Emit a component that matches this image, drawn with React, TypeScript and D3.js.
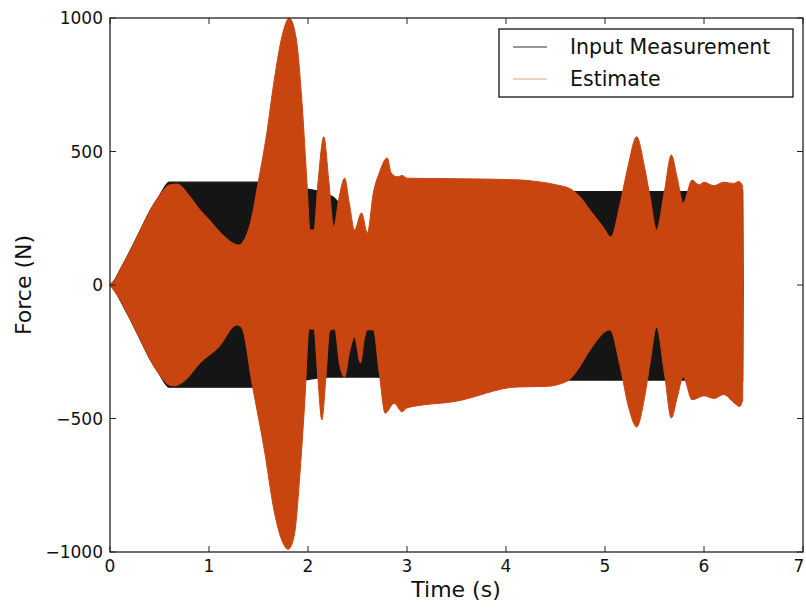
import React from "react";
import * as d3 from "d3";

// ---- data ----
// Input measurement envelope (dense oscillation drawn as filled band)
const inputTime = [0, 0.05, 0.1, 0.2, 0.3, 0.4, 0.5, 0.6, 1.0, 1.5, 1.9, 2.2, 2.32, 2.42, 2.6, 2.7, 2.8, 3.0, 4.0, 4.8, 5.2, 6.0, 6.39, 6.395];
const inputUpper = [0, 20, 55, 125, 200, 275, 335, 385, 385, 385, 365, 340, 300, 200, 185, 290, 345, 350, 350, 350, 350, 350, 355, 0];
const inputLower = [0, -20, -55, -125, -200, -275, -335, -383, -383, -383, -360, -345, -345, -345, -345, -345, -350, -350, -355, -356, -356, -356, -360, 0];

// Estimate envelope, upper edge
const estUpperTime = [0, 0.05, 0.1, 0.2, 0.3, 0.4, 0.5, 0.6, 0.68, 0.8, 0.91, 1.0, 1.14, 1.3, 1.34, 1.42, 1.5, 1.58, 1.66, 1.74, 1.81, 1.88, 1.94, 1.99, 2.02, 2.06, 2.1, 2.16, 2.21, 2.26, 2.31, 2.37, 2.42, 2.47, 2.54, 2.6, 2.66, 2.72, 2.8, 2.84, 2.9, 2.95, 3.0, 3.5, 4.11, 4.3, 4.51, 4.65, 4.75, 4.85, 4.98, 5.06, 5.15, 5.23, 5.32, 5.4, 5.46, 5.52, 5.6, 5.67, 5.73, 5.79, 5.88, 5.95, 6.0, 6.1, 6.2, 6.3, 6.35, 6.39, 6.395];
const estUpperValue = [0, 20, 55, 125, 200, 275, 335, 375, 378, 335, 281, 245, 187, 150, 160, 235, 390, 560, 770, 935, 1000, 925, 680, 380, 206, 206, 380, 555, 390, 218, 320, 400, 300, 206, 270, 195, 345, 420, 476, 420, 405, 410, 400, 398, 394, 388, 375, 360, 330, 280, 218, 180, 300, 440, 555, 440, 320, 206, 350, 487, 400, 307, 393, 375, 385, 372, 385, 380, 388, 370, 0];

// Estimate envelope, lower edge
const estLowerTime = [0, 0.1, 0.2, 0.3, 0.4, 0.5, 0.6, 0.65, 0.75, 0.91, 1.1, 1.28, 1.33, 1.44, 1.56, 1.66, 1.74, 1.8, 1.86, 1.92, 1.97, 2.01, 2.06, 2.1, 2.14, 2.18, 2.22, 2.27, 2.32, 2.37, 2.42, 2.47, 2.53, 2.57, 2.6, 2.66, 2.72, 2.78, 2.87, 2.95, 3.0, 3.5, 4.11, 4.4, 4.62, 4.72, 4.85, 5.05, 5.15, 5.24, 5.32, 5.4, 5.46, 5.52, 5.6, 5.67, 5.73, 5.79, 5.88, 6.0, 6.1, 6.2, 6.3, 6.36, 6.39, 6.395];
const estLowerValue = [0, -55, -125, -200, -275, -335, -375, -378, -360, -292, -232, -150, -160, -380, -620, -850, -960, -990, -940, -700, -420, -165, -165, -350, -505, -350, -170, -165, -300, -345, -250, -195, -292, -200, -168, -168, -330, -480, -443, -475, -460, -435, -382, -380, -360, -320, -243, -168, -300, -460, -532, -420, -280, -157, -330, -498, -420, -345, -430, -415, -425, -410, -440, -455, -430, 0];

const xTicks = [0, 1, 2, 3, 4, 5, 6, 7];
const yTicks = [-1000, -500, 0, 500, 1000];
const legendLabels = ["Input Measurement", "Estimate"];

const W = 806;
const H = 609;
const M = { left: 110, right: 803, top: 18, bottom: 552 };
const ORANGE = "#c8450f";
const BLACK = "#151515";
const FONT = "DejaVu Sans, sans-serif";

export default function App() {
  const x = d3.scaleLinear().domain([0, 7]).range([M.left, M.right]);
  const y = d3.scaleLinear().domain([-1000, 1000]).range([M.bottom, M.top]);

  // Each envelope is the union of an area from zero up to the upper edge and one from zero down to the lower edge
  const halfArea = (ts: number[], vs: number[]) =>
    d3
      .area<number>()
      .x((_, i) => x(ts[i]))
      .y0(y(0))
      .y1((v) => y(v))
      .curve(d3.curveMonotoneX)(vs) || "";

  const inputPaths = [halfArea(inputTime, inputUpper), halfArea(inputTime, inputLower)];
  const estPaths = [halfArea(estUpperTime, estUpperValue), halfArea(estLowerTime, estLowerValue)];

  const fmt = (v: number) => (v < 0 ? "\u2212" + Math.abs(v) : String(v));
  const tickLen = 6;

  return (
    <div style={{ position: "absolute", left: 0, top: 0, width: W, height: H, background: "#fff" }}>
      <svg width={W} height={H} style={{ display: "block" }}>
        <rect x={0} y={0} width={W} height={H} fill="#fff" />
        {inputPaths.map((d, i) => (
          <path key={"in" + i} d={d} fill={BLACK} stroke={BLACK} strokeWidth={1.2} strokeLinejoin="round" />
        ))}
        {estPaths.map((d, i) => (
          <path key={"es" + i} d={d} fill={ORANGE} stroke={ORANGE} strokeWidth={1} strokeLinejoin="round" />
        ))}

        {/* frame */}
        <rect x={M.left} y={M.top} width={M.right - M.left} height={M.bottom - M.top} fill="none" stroke="#222" strokeWidth={1.3} />

        {/* x ticks */}
        {xTicks.map((t) => (
          <g key={"x" + t}>
            <line x1={x(t)} x2={x(t)} y1={M.bottom} y2={M.bottom - tickLen} stroke="#222" strokeWidth={1} />
            <line x1={x(t)} x2={x(t)} y1={M.top} y2={M.top + tickLen} stroke="#222" strokeWidth={1} />
            <text x={Math.min(x(t), 799)} y={572} textAnchor="middle" fontFamily={FONT} fontSize={17} fill="#111">
              {t}
            </text>
          </g>
        ))}

        {/* y ticks */}
        {yTicks.map((v) => (
          <g key={"y" + v}>
            <line x1={M.left} x2={M.left + tickLen} y1={y(v)} y2={y(v)} stroke="#222" strokeWidth={1} />
            <line x1={M.right} x2={M.right - tickLen} y1={y(v)} y2={y(v)} stroke="#222" strokeWidth={1} />
            <text x={103} y={y(v)} dy="0.36em" textAnchor="end" fontFamily={FONT} fontSize={17} fill="#111">
              {fmt(v)}
            </text>
          </g>
        ))}

        {/* axis labels */}
        <text x={456} y={597} textAnchor="middle" fontFamily={FONT} fontSize={22} fill="#111">
          Time (s)
        </text>
        <text transform={`translate(31,${y(0)}) rotate(-90)`} textAnchor="middle" fontFamily={FONT} fontSize={22} fill="#111">
          Force (N)
        </text>

        {/* legend */}
        <rect x={499} y={29} width={294} height={68} fill="#fff" stroke="#111" strokeWidth={1.3} />
        <line x1={513} x2={547} y1={47} y2={47} stroke="#333" strokeWidth={1.2} />
        <line x1={513} x2={547} y1={79} y2={79} stroke="#e6c4aa" strokeWidth={1.6} />
        <text x={570} y={54} fontFamily={FONT} fontSize={20.5} fill="#111">
          {legendLabels[0]}
        </text>
        <text x={570} y={86} fontFamily={FONT} fontSize={20.5} fill="#111">
          {legendLabels[1]}
        </text>
      </svg>
    </div>
  );
}
